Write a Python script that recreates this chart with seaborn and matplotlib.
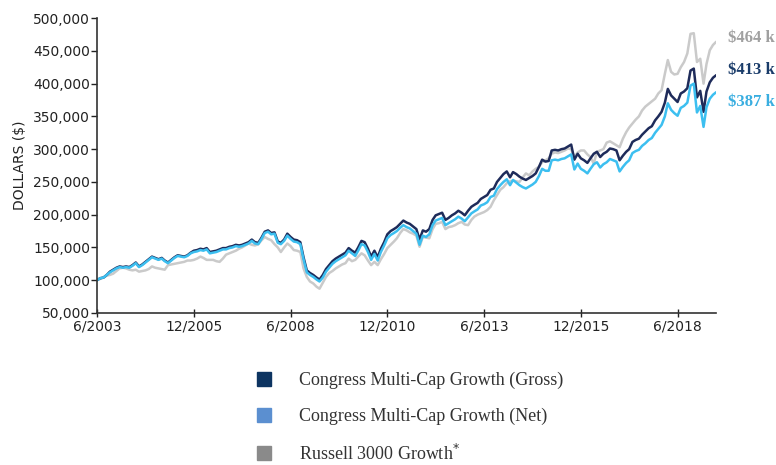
import numpy as np
import pandas as pd
import matplotlib
matplotlib.use("Agg")
import matplotlib.pyplot as plt
import seaborn as sns
from matplotlib.lines import Line2D
from matplotlib.ticker import FuncFormatter

# monthly growth of $100,000, values in $ thousands, 6/2003 .. 6/2019
gross = [100,103,104,108,113,116,119,121,120,121,
         120,123,127,121,124,128,132,136,134,132,
         134,130,127,131,135,138,137,136,138,142,
         145,146,148,147,149,143,144,145,147,149,
         149,151,152,154,153,154,156,158,162,158,
         157,165,174,176,172,173,159,157,162,171,
         166,162,161,158,135,115,111,108,104,101,
         108,117,123,129,133,136,139,142,149,145,
         142,150,160,158,148,136,145,135,148,158,
         170,175,178,181,186,191,188,186,182,178,
         162,176,174,178,192,199,201,203,192,195,
         199,202,206,203,199,206,212,215,218,224,
         227,230,238,240,250,256,262,266,257,265,
         262,258,255,253,256,259,263,273,284,281,
         282,298,299,298,300,301,304,307,284,293,
         286,283,279,286,293,296,288,293,296,301,
         300,298,283,290,296,300,311,314,316,322,
         327,332,335,344,350,357,371,392,382,377,
         372,385,388,393,420,423,379,389,357,388,
         402,409,413]
net = [100,103,104,108,112,115,118,120,119,120,
       119,122,126,120,123,127,131,135,133,131,
       133,129,126,130,134,137,136,135,137,141,
       143,144,146,145,147,141,142,143,145,147,
       147,149,150,152,151,152,154,156,160,156,
       155,163,172,174,170,171,157,155,160,168,
       163,159,158,155,132,112,108,105,101,98,
       104,113,119,125,129,132,135,138,145,141,
       137,145,155,153,143,131,140,130,143,153,
       164,169,172,175,180,184,181,179,175,171,
       154,168,166,170,184,191,193,195,184,187,
       190,193,197,194,190,196,202,205,208,214,
       216,219,227,229,239,245,250,254,245,253,
       249,245,242,240,243,246,250,259,270,267,
       267,283,284,283,285,286,289,292,269,278,
       270,267,263,270,277,280,272,277,280,285,
       283,281,266,273,279,283,294,297,299,305,
       309,314,317,325,331,337,350,370,360,355,
       351,363,366,371,397,400,356,366,334,364,
       377,383,387]
russell = [100,102,104,107,108,110,114,118,119,118,
           116,115,116,113,114,115,117,121,119,118,
           117,116,123,124,125,126,127,128,130,130,
           131,133,136,134,131,131,131,129,128,133,
           139,141,143,145,148,150,153,156,154,153,
           155,161,166,163,161,155,150,143,150,156,
           152,146,145,143,118,105,98,95,90,87,
           96,105,111,114,118,121,124,126,133,129,
           131,136,141,138,130,123,128,123,132,140,
           149,154,159,164,172,178,176,173,171,168,
           151,166,165,164,178,186,187,189,178,181,
           182,184,187,189,185,184,192,197,200,202,
           204,207,212,222,230,238,242,248,251,252,
           251,250,257,263,260,266,270,273,280,283,
           286,293,295,294,296,298,301,300,288,295,
           298,298,292,288,278,296,298,300,310,312,
           309,306,303,316,326,333,339,345,350,359,
           365,369,373,377,385,390,415,436,418,414,
           415,425,433,446,476,477,433,438,400,430,
           451,459,464]

series_names = ["Congress Multi-Cap Growth (Gross)",
                "Congress Multi-Cap Growth (Net)",
                "Russell 3000 Growth"]
end_labels = ["$413 k", "$387 k", "$464 k"]
tick_dates = ["2003-06", "2005-12", "2008-06", "2010-12", "2013-06", "2015-12", "2018-06"]
tick_labels = ["6/2003", "12/2005", "6/2008", "12/2010", "6/2013", "12/2015", "6/2018"]

line_colors = {series_names[0]: "#1e2b5a", series_names[1]: "#3cbff0", series_names[2]: "#cacaca"}
legend_colors = ["#0d3461", "#5b8fd0", "#8a8a8a"]
label_colors = ["#1a3c6a", "#3aaee0", "#a0a0a0"]

dates = pd.date_range("2003-06-01", periods=len(gross), freq="MS")
df = pd.DataFrame({
    "date": np.tile(dates, 3),
    "value": np.array(gross + net + russell) * 1000,
    "series": np.repeat(series_names, len(gross)),
})

sns.set_style("ticks")
fig = plt.figure(figsize=(7.76, 4.65), dpi=100)
ax = fig.add_axes([0.125, 0.327, 0.798, 0.634])

order = [series_names[2], series_names[0], series_names[1]]
for name in order:
    sns.lineplot(data=df[df.series == name], x="date", y="value", color=line_colors[name],
                 linewidth=1.8, ax=ax, legend=False)

ax.set_xlim(dates[0], dates[-1])
ax.set_ylim(50000, 500000)
ax.set_yticks(np.arange(50000, 500001, 50000))
ax.yaxis.set_major_formatter(FuncFormatter(lambda v, p: f"{int(v):,}"))
ax.set_xticks(pd.to_datetime(tick_dates))
ax.set_xticklabels(tick_labels)
ax.set_xlabel("")
ax.set_ylabel("DOLLARS ($)", fontsize=10, color="#222222", labelpad=4)
ax.tick_params(axis="y", direction="out", length=4, width=1, labelsize=10, colors="#222222", pad=1)
ax.tick_params(axis="x", direction="inout", length=6, width=1, labelsize=10, colors="#222222", pad=2)
for s in ["top", "right"]:
    ax.spines[s].set_visible(False)
for s in ["left", "bottom"]:
    ax.spines[s].set_color("#333333")
    ax.spines[s].set_linewidth(1.2)

# end-of-line value labels
for lab, col, ypx in zip(end_labels, label_colors, [70, 102, 38]):
    fig.text(728 / 776, 1 - ypx / 465, lab, color=col, fontsize=12, fontweight="bold",
             family="Liberation Serif", va="center", ha="left")

handles = [Line2D([], [], linestyle="none", marker="s", markersize=10,
                  markerfacecolor=c, markeredgecolor=c) for c in legend_colors]
leg_labels = [series_names[0], series_names[1], series_names[2] + "$^{*}$"]
fig.legend(handles, leg_labels, loc="upper left", bbox_to_anchor=(246 / 776, 1 - 363 / 465),
           frameon=False, borderpad=0, handlelength=1.0, handletextpad=1.45, labelspacing=1.02,
           prop={"family": "Liberation Serif", "size": 13}, labelcolor="#333333")

fig.savefig("out.png", dpi=100)
